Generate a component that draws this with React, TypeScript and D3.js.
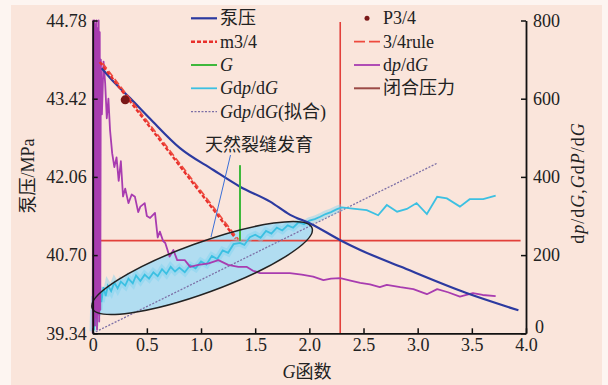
import React, { useEffect, useRef } from 'react';
import * as d3 from 'd3';

const W = 608;
const H = 385;
const SERIF = 'Liberation Serif, Times New Roman, serif';
const CJK = 'Noto Sans CJK SC, sans-serif';

// axis ticks
const xTicks = [0, 0.5, 1.0, 1.5, 2.0, 2.5, 3.0, 3.5, 4.0];
const leftTicks = [39.34, 40.7, 42.06, 43.42, 44.78];
const rightTicks = [0, 200, 400, 600, 800];

// 泵压 (G, MPa)
const pumpPressure: [number, number][] = [
  [0.083, 43.95], [0.2, 43.7], [0.345, 43.43], [0.53, 43.07], [0.806, 42.56], [1.114, 42.18],
  [1.36, 41.89], [1.638, 41.63], [1.823, 41.4], [2.007, 41.25], [2.285, 40.96], [2.47, 40.79],
  [2.84, 40.5], [3.45, 40.04], [3.93, 39.74],
];

// m3/4 and 3/4rule straight lines (G, MPa)
const m34: [number, number][] = [[0.065, 44.06], [1.32, 40.99]];
const rule34: [number, number][] = [[0.09, 44.04], [1.345, 40.97]];

// P3/4 point
const p34: [number, number] = [0.3, 43.4];

// G line (G, right axis)
const gLine: [number, number][] = [[1.36, 236], [1.36, 430]];

// Gdp/dG (G, right axis)
const gdpdg: [number, number][] = [
  [0.003, 5], [0.008, 60], [0.012, 8], [0.017, 95], [0.022, 18], [0.027, 80], [0.032, 30],
  [0.038, 105], [0.045, 45], [0.052, 100], [0.06, 60], [0.07, 112], [0.08, 80], [0.1, 118],
  [0.12, 95], [0.14, 122], [0.17, 108], [0.2, 130], [0.23, 115], [0.26, 132], [0.3, 122],
  [0.33, 140], [0.37, 128], [0.4, 148], [0.44, 134], [0.48, 150], [0.52, 140], [0.56, 156],
  [0.6, 146], [0.64, 164], [0.68, 152], [0.72, 170], [0.76, 158], [0.8, 168], [0.85, 156],
  [0.9, 174], [0.95, 166], [1.0, 184], [1.05, 176], [1.1, 198], [1.15, 190], [1.2, 212],
  [1.25, 206], [1.3, 228], [1.36, 231], [1.4, 226], [1.45, 246], [1.5, 252], [1.55, 244],
  [1.6, 262], [1.65, 255], [1.7, 270], [1.75, 263], [1.8, 276], [1.85, 270], [1.9, 284],
  [1.95, 279], [2.0, 288], [2.05, 292], [2.1, 298], [2.15, 305], [2.2, 310], [2.25, 317],
  [2.3, 322], [2.4, 319], [2.53, 315], [2.635, 302], [2.715, 328], [2.81, 311], [2.9, 318],
  [2.99, 333], [3.085, 305], [3.18, 349], [3.27, 345], [3.39, 324], [3.48, 343], [3.605, 343],
  [3.72, 352],
];

// Gdp/dG(拟合)
const gdpdgFit: [number, number][] = [[0, 0], [3.18, 435]];

// dp/dG (G, right axis)
const dpdg: [number, number][] = [
  [0.0, 0], [0.005, 800], [0.01, 30], [0.015, 800], [0.02, 20], [0.025, 790], [0.03, 40],
  [0.035, 800], [0.04, 10], [0.045, 780], [0.05, 50], [0.055, 800], [0.06, 30], [0.065, 770],
  [0.07, 60], [0.075, 700], [0.085, 560], [0.1, 695], [0.115, 640], [0.13, 550], [0.145, 600],
  [0.16, 520], [0.18, 460], [0.2, 425], [0.22, 450], [0.24, 390], [0.26, 440], [0.28, 350],
  [0.3, 370], [0.33, 333], [0.36, 355], [0.39, 349], [0.42, 310], [0.44, 324], [0.48, 333],
  [0.5, 300], [0.53, 295], [0.575, 308], [0.6, 245], [0.62, 260], [0.65, 236], [0.67, 231],
  [0.71, 196], [0.745, 213], [0.78, 187], [0.85, 187], [0.9, 170], [0.975, 175], [1.07, 179],
  [1.16, 187], [1.25, 175], [1.345, 170], [1.42, 170], [1.48, 160], [1.545, 154], [1.665, 154],
  [1.82, 154], [1.93, 150], [2.035, 145], [2.13, 136], [2.2, 140], [2.285, 141], [2.38, 135],
  [2.47, 129], [2.56, 125], [2.65, 118], [2.715, 124], [2.84, 118], [2.96, 113], [3.085, 100],
  [3.18, 113], [3.28, 105], [3.39, 94], [3.51, 103], [3.6, 98], [3.72, 95],
];

// 闭合压力 lines
const closureLevel = 237; // right axis
const closureRange = [0.07, 3.95];
const closureG = 2.285;

// 天然裂缝发育 ellipse (centre in data units)
const fractureCenter: [number, number] = [1.01, 167];

// [text, italic, cjk]
type Part = [string, boolean, boolean?];

const richText = (
  g: d3.Selection<any, unknown, null, undefined>,
  x: number,
  y: number,
  parts: Part[],
  size = 18,
) => {
  const t = g.append('text')
    .attr('x', x)
    .attr('y', y)
    .attr('font-size', size)
    .attr('fill', '#222');
  parts.forEach(([s, it, cjk]) => {
    t.append('tspan')
      .style('font-family', cjk ? CJK : SERIF)
      .style('font-style', it ? 'italic' : 'normal')
      .text(s);
  });
  return t;
};

const App: React.FC = () => {
  const svgRef = useRef<SVGSVGElement>(null);

  useEffect(() => {
    const svg = d3.select(svgRef.current);
    svg.selectAll('*').remove();

    const x = d3.scaleLinear().domain([0, 4]).range([92.7, 526]);
    const yL = d3.scaleLinear().domain([39.34, 44.78]).range([333.3, 20.5]);
    const yR = d3.scaleLinear().domain([0, 800]).range([333.3, 20.5]);

    // background
    svg.append('rect').attr('width', W).attr('height', H).attr('fill', '#fdf5f1');
    svg.append('rect').attr('x', 11).attr('y', 5).attr('width', 591).attr('height', 380).attr('fill', '#fae5db');

    const lineL = d3.line<[number, number]>().x(d => x(d[0])).y(d => yL(d[1]));
    const lineR = d3.line<[number, number]>().x(d => x(d[0])).y(d => yR(d[1]));

    // ellipse fill
    const cx = x(fractureCenter[0]);
    const cy = yR(fractureCenter[1]);
    svg.append('ellipse')
      .attr('cx', cx).attr('cy', cy).attr('rx', 117).attr('ry', 25)
      .attr('transform', `rotate(-20 ${cx} ${cy})`)
      .attr('fill', '#a8dcf3')
      .attr('opacity', 0.9);

    // closure pressure lines
    svg.append('line')
      .attr('x1', x(closureRange[0])).attr('x2', x(closureRange[1]))
      .attr('y1', yR(closureLevel)).attr('y2', yR(closureLevel))
      .attr('stroke', '#e2403b').attr('stroke-width', 1.8);
    svg.append('line')
      .attr('x1', x(closureG)).attr('x2', x(closureG))
      .attr('y1', yR(0)).attr('y2', 22)
      .attr('stroke', '#e2403b').attr('stroke-width', 1.6);

    // fit line
    svg.append('path').datum(gdpdgFit)
      .attr('d', lineR).attr('fill', 'none')
      .attr('stroke', '#7c6fa6').attr('stroke-width', 1.3).attr('stroke-dasharray', '2,1.5');

    // Gdp/dG with soft glow
    svg.append('path').datum(gdpdg.filter(d => d[0] <= 2.3))
      .attr('d', lineR).attr('fill', 'none')
      .attr('stroke', '#7fd3ef').attr('stroke-width', 7).attr('opacity', 0.45);
    svg.append('path').datum(gdpdg)
      .attr('d', lineR).attr('fill', 'none')
      .attr('stroke', '#3cc0e2').attr('stroke-width', 1.8);

    // dp/dG
    svg.append('path').datum(dpdg)
      .attr('d', lineR).attr('fill', 'none')
      .attr('stroke', '#a83cb0').attr('stroke-width', 1.8).attr('stroke-linejoin', 'round');

    // pump pressure
    svg.append('path').datum(pumpPressure)
      .attr('d', lineL.curve(d3.curveMonotoneX)).attr('fill', 'none')
      .attr('stroke', '#2c3aa0').attr('stroke-width', 2.2);

    // m3/4 and 3/4rule
    const straight = d3.line<[number, number]>().x(d => x(d[0])).y(d => yL(d[1]));
    svg.append('path').datum(m34)
      .attr('d', straight).attr('fill', 'none')
      .attr('stroke', '#e8302c').attr('stroke-width', 2.4).attr('stroke-dasharray', '4,2');
    svg.append('path').datum(rule34)
      .attr('d', straight).attr('fill', 'none')
      .attr('stroke', '#ee4a3e').attr('stroke-width', 1.6).attr('stroke-dasharray', '7,3');

    // G line
    svg.append('path').datum(gLine)
      .attr('d', lineR).attr('fill', 'none')
      .attr('stroke', '#3fb83c').attr('stroke-width', 2);

    // P3/4 marker
    svg.append('circle')
      .attr('cx', x(p34[0])).attr('cy', yL(p34[1])).attr('r', 4.5)
      .attr('fill', '#7a1818');

    // ellipse outline
    svg.append('ellipse')
      .attr('cx', cx).attr('cy', cy).attr('rx', 117).attr('ry', 25)
      .attr('transform', `rotate(-20 ${cx} ${cy})`)
      .attr('fill', 'none').attr('stroke', '#222').attr('stroke-width', 1.5);

    // annotation
    svg.append('line')
      .attr('x1', 230.5).attr('y1', 155).attr('x2', 211).attr('y2', 237)
      .attr('stroke', '#3a6fd8').attr('stroke-width', 1);
    richText(svg, 259, 150.5, [['天然裂缝发育', false, true]]).attr('text-anchor', 'middle');

    // axes
    const styleAxis = (g: d3.Selection<SVGGElement, unknown, null, undefined>) => {
      g.attr('font-family', null);
      g.select('.domain').attr('stroke', '#111').attr('stroke-width', 1.8);
      g.selectAll('.tick line').attr('stroke', '#111').attr('stroke-width', 1.5);
      g.selectAll('.tick text')
        .style('font-family', SERIF)
        .attr('font-size', 18)
        .attr('fill', '#222');
    };

    svg.append('g')
      .attr('transform', `translate(0,${yL.range()[0]})`)
      .call(d3.axisBottom(x).tickValues(xTicks).tickSize(-5).tickSizeOuter(0).tickPadding(5)
        .tickFormat(d => (+d === 0 ? '0' : d3.format('.1f')(+d))))
      .call(styleAxis);

    svg.append('g')
      .attr('transform', `translate(${x.range()[0]},0)`)
      .call(d3.axisLeft(yL).tickValues(leftTicks).tickSize(-5).tickSizeOuter(0).tickPadding(6)
        .tickFormat(d => d3.format('.2f')(+d)))
      .call(styleAxis);

    const right = svg.append('g')
      .attr('transform', `translate(${x.range()[1]},0)`)
      .call(d3.axisRight(yR).tickValues(rightTicks).tickSize(-5).tickSizeOuter(0).tickPadding(7))
      .call(styleAxis);
    // lift the "0" a little, as in the source figure
    right.selectAll<SVGTextElement, number>('.tick text').filter(d => d === 0).attr('dy', '-0.05em').attr('x', 9);

    // axis titles
    richText(svg, 307, 378, [['G', true], ['函数', false, true]]).attr('text-anchor', 'middle');
    richText(svg, 0, 0, [['泵压', false, true], ['/MPa', false]])
      .attr('text-anchor', 'middle')
      .attr('transform', 'translate(34,176) rotate(-90)');
    richText(svg, 0, 0, [
      ['d', false], ['p', true], ['/d', false], ['G', true], [',', false], ['G', true],
      ['d', false], ['P', true], ['/d', false], ['G', true],
    ])
      .attr('text-anchor', 'middle')
      .attr('letter-spacing', 1)
      .attr('transform', 'translate(584,183) rotate(-90)');

    // legend
    const rows = [18.3, 41.7, 65, 88.3, 111.6];
    const leg = svg.append('g');
    const sample = (x1: number, y: number, color: string, w: number, dash?: string) => {
      const l = leg.append('line').attr('x1', x1).attr('x2', x1 + 26).attr('y1', y).attr('y2', y)
        .attr('stroke', color).attr('stroke-width', w);
      if (dash) l.attr('stroke-dasharray', dash);
    };
    const c1 = 191;
    const c2 = 354;
    sample(c1, rows[0], '#2c3aa0', 2.2);
    richText(leg, c1 + 29, rows[0] + 6, [['泵压', false, true]]);
    sample(c1, rows[1], '#e8302c', 2.4, '4,2');
    richText(leg, c1 + 29, rows[1] + 6, [['m3/4', false]]);
    sample(c1, rows[2], '#3fb83c', 2);
    richText(leg, c1 + 29, rows[2] + 6, [['G', true]]);
    sample(c1, rows[3], '#3cc0e2', 1.8);
    richText(leg, c1 + 29, rows[3] + 6, [['G', true], ['d', false], ['p', true], ['/d', false], ['G', true]]);
    sample(c1, rows[4], '#7c6fa6', 1.3, '2,1.5');
    richText(leg, c1 + 29, rows[4] + 6, [
      ['G', true], ['d', false], ['p', true], ['/d', false], ['G', true], ['(', false], ['拟合', false, true], [')', false],
    ]);

    leg.append('circle').attr('cx', c2 + 13).attr('cy', rows[0]).attr('r', 2.5).attr('fill', '#7a1818');
    richText(leg, c2 + 29, rows[0] + 6, [['P3/4', false]]);
    sample(c2, rows[1], '#ee4a3e', 1.8, '11,4');
    richText(leg, c2 + 29, rows[1] + 6, [['3/4rule', false]]);
    sample(c2, rows[2], '#a83cb0', 1.8);
    richText(leg, c2 + 29, rows[2] + 6, [['d', false], ['p', true], ['/d', false], ['G', true]]);
    sample(c2, rows[3], '#9b4a46', 2);
    richText(leg, c2 + 29, rows[3] + 6, [['闭合压力', false, true]]);
  }, []);

  return (
    <svg
      ref={svgRef}
      width={W}
      height={H}
      style={{ position: 'absolute', left: 0, top: 0, display: 'block' }}
    />
  );
};

export default App;
